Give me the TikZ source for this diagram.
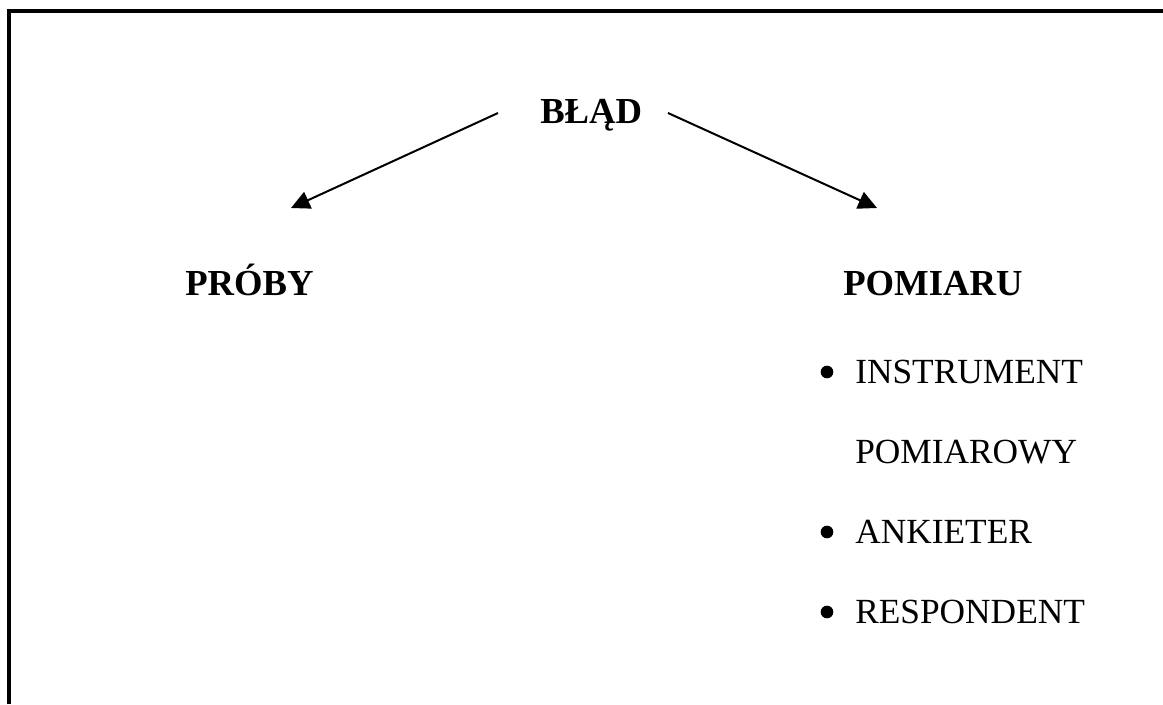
\documentclass[tikz,border=0pt]{standalone}
\usepackage{fontspec}
\setmainfont{Liberation Serif}
\usetikzlibrary{arrows.meta}
\begin{document}
\begin{tikzpicture}[x=0.75pt,y=-0.75pt,>={Triangle[length=14pt,width=13.5pt]},
  word/.style={anchor=base west,inner sep=0pt,font=\fontsize{26.5}{32}\selectfont},
  head/.style={anchor=base west,inner sep=0pt,font=\fontsize{27.5}{32}\selectfont\bfseries},
  dot/.style={circle,fill,inner sep=0pt,minimum size=9.5pt}]
  \useasboundingbox (0,0) rectangle (1163,704);
  % frame
  \draw[line width=2.4pt] (9,704) -- (9,11) -- (1163,11);
  % headings
  \node[head] (blad) at (540,123) {BŁĄD};
  \node[head] (proby) at (185,295) {PRÓBY};
  \node[head] (pomiaru) at (843,295) {POMIARU};
  % arrows
  \coordinate (lfrom) at (498,113);
  \coordinate (lto) at (291,208);
  \coordinate (rfrom) at (668,113);
  \coordinate (rto) at (877,208);
  \draw[->,line width=1.5pt] (lfrom) -- (lto);
  \draw[->,line width=1.5pt] (rfrom) -- (rto);
  % list
  \node[dot] (d1) at (827,372) {};
  \node[word] (instr) at (855,383) {INSTRUMENT};
  \node[word] (pomiar) at (855,463) {POMIAROWY};
  \node[dot] (d2) at (827,532) {};
  \node[word] (ankieter) at (855,543) {ANKIETER};
  \node[dot] (d3) at (827,612) {};
  \node[word] (resp) at (855,623) {RESPONDENT};
\end{tikzpicture}
\end{document}
